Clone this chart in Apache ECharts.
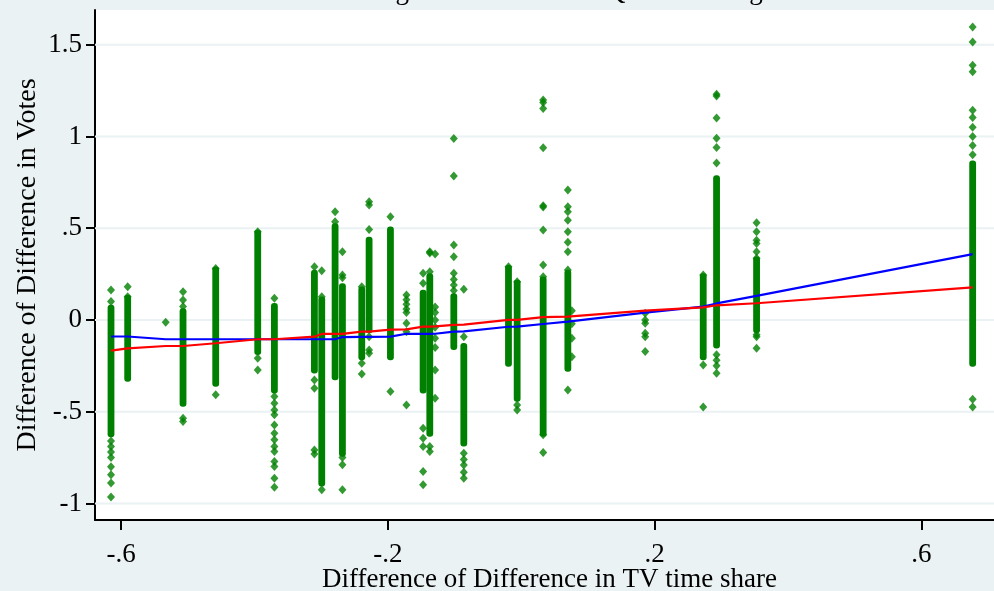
<!DOCTYPE html>
<html>
<head>
<meta charset="utf-8">
<script src="https://cdn.jsdelivr.net/npm/echarts@6/dist/echarts.min.js"></script>
<style>
html,body{margin:0;padding:0;background:#eaf2f3;}
#chart{width:994px;height:591px;}
</style>
</head>
<body>
<div id="chart"></div>
<script>
// ---- Data ----
const titleText = 'Local Linear Regression and Local Quadratic Regression Fit';
const xTitle = 'Difference of Difference in TV time share';
const yTitle = 'Difference of Difference in Votes';

const xTickValues = [-0.6, -0.2, 0.2, 0.6];
const xTickLabels = ['-.6', '-.2', '.2', '.6'];
const yTickValues = [-1, -0.5, 0, 0.5, 1, 1.5];
const yTickLabels = ['-1', '-.5', '0', '.5', '1', '1.5'];

// Dense runs of overlapping points: x, lowest y, highest y
const runX    = [-0.615, -0.59, -0.507, -0.458, -0.395, -0.37, -0.31, -0.299, -0.279, -0.268, -0.239, -0.228, -0.196, -0.147, -0.137, -0.101, -0.086, -0.019, -0.006, 0.033, 0.07, 0.273, 0.293, 0.353, 0.677];
const runLow  = [-0.62, -0.318, -0.454, -0.345, -0.172, -0.381, -0.272, -0.889, -0.309, -0.726, -0.2, -0.054, -0.2, -0.381, -0.617, -0.145, -0.671, -0.236, -0.426, -0.617, -0.263, -0.2, -0.136, -0.054, -0.236];
const runHigh = [0.064, 0.118, 0.045, 0.272, 0.472, 0.073, 0.254, 0.109, 0.508, 0.181, 0.163, 0.435, 0.49, 0.145, 0.236, 0.127, -0.145, 0.281, 0.2, 0.218, 0.254, 0.236, 0.77, 0.327, 0.85];

// Separate points
const ptX = [
  -0.615,-0.615,-0.615,-0.615,-0.615,-0.615,-0.615,-0.615,-0.615,-0.615,
  -0.59,-0.59,
  -0.533,
  -0.507,-0.507,-0.507,-0.507,-0.507,
  -0.458,-0.458,
  -0.395,-0.395,-0.395,
  -0.37,-0.37,-0.37,-0.37,-0.37,-0.37,-0.37,-0.37,-0.37,-0.37,-0.37,-0.37,-0.37,-0.37,
  -0.31,-0.31,-0.31,-0.31,-0.31,
  -0.299,-0.299,-0.299,
  -0.279,-0.279,
  -0.268,-0.268,-0.268,-0.268,-0.268,-0.268,
  -0.239,-0.239,-0.239,
  -0.228,-0.228,-0.228,-0.228,-0.228,-0.228,
  -0.196,-0.196,
  -0.172,-0.172,-0.172,-0.172,-0.172,-0.172,-0.172,-0.172,
  -0.147,-0.147,-0.147,-0.147,-0.147,-0.147,-0.147,
  -0.137,-0.137,-0.137,-0.137,-0.137,
  -0.129,-0.129,-0.129,-0.129,-0.129,-0.129,-0.129,-0.129,-0.129,
  -0.101,-0.101,-0.101,-0.101,-0.101,-0.101,-0.101,-0.101,
  -0.086,-0.086,-0.086,-0.086,-0.086,-0.086,-0.086,
  -0.019,
  -0.006,-0.006,-0.006,
  0.033,0.033,0.033,0.033,0.033,0.033,0.033,0.033,0.033,0.033,0.033,
  0.07,0.07,0.07,0.07,0.07,0.07,0.07,0.07,0.07,
  0.076,0.076,0.076,0.076,
  0.186,0.186,0.186,0.186,0.186,0.186,
  0.273,0.273,0.273,
  0.293,0.293,0.293,0.293,0.293,0.293,0.293,0.293,0.293,0.293,
  0.353,0.353,0.353,0.353,0.353,0.353,0.353,0.353,0.353,
  0.677,0.677,0.677,0.677,0.677,0.677,0.677,0.677,0.677,0.677,0.677,0.677
];
const ptY = [
  0.163,0.1,-0.66,-0.69,-0.72,-0.75,-0.80,-0.844,-0.889,-0.965,
  0.181,0.127,
  -0.013,
  0.154,0.109,0.073,-0.535,-0.553,
  0.281,-0.408,
  0.481,-0.209,-0.272,
  0.118,-0.417,-0.454,-0.49,-0.517,-0.572,-0.617,-0.653,-0.69,-0.717,-0.771,-0.798,-0.862,-0.911,
  0.29,-0.327,-0.372,-0.708,-0.73,
  0.127,-0.925,0.268,
  0.59,0.535,
  0.372,0.245,0.23,-0.75,-0.789,-0.925,
  0.181,-0.236,-0.294,
  0.644,0.626,0.493,-0.091,-0.163,-0.181,
  0.562,-0.39,
  0.136,0.11,0.085,0.06,0.04,-0.018,-0.064,-0.463,
  0.254,0.2,-0.59,-0.644,-0.69,-0.826,-0.898,
  0.372,0.365,0.263,-0.69,-0.717,
  0.36,0.07,0.04,0.0,-0.04,-0.1,-0.15,-0.272,-0.426,
  0.989,0.784,0.408,0.345,0.254,0.22,0.19,0.16,
  0.167,-0.091,-0.726,-0.76,-0.79,-0.83,-0.862,
  0.29,
  0.208,-0.463,-0.49,
  1.198,1.185,1.152,0.938,0.622,0.615,0.49,0.299,0.236,-0.626,-0.722,
  0.708,0.617,0.59,0.544,0.481,0.423,0.372,0.272,-0.381,
  0.05,-0.02,-0.1,-0.2,
  0.036,0.0,-0.018,-0.073,-0.091,-0.172,
  0.245,-0.245,-0.474,
  1.23,1.22,1.1,0.99,0.94,0.855,-0.19,-0.22,-0.25,-0.29,
  0.53,0.481,0.435,0.417,0.372,0.336,-0.091,-0.154,-0.08,
  1.597,1.515,1.388,1.352,1.143,1.103,1.05,1.0,0.95,0.9,-0.432,-0.474
];

// Fitted curves evaluated at each distinct x
const fitX      = [-0.615, -0.59, -0.533, -0.507, -0.458, -0.395, -0.37, -0.31, -0.299, -0.279, -0.268, -0.239, -0.228, -0.196, -0.172, -0.147, -0.137, -0.129, -0.101, -0.086, -0.019, -0.006, 0.033, 0.07, 0.186, 0.273, 0.293, 0.353, 0.677];
const linearFit = [-0.09, -0.09, -0.105, -0.105, -0.105, -0.105, -0.105, -0.105, -0.105, -0.105, -0.093, -0.092, -0.092, -0.091, -0.075, -0.076, -0.076, -0.075, -0.064, -0.062, -0.037, -0.036, -0.022, -0.009, 0.04, 0.073, 0.09, 0.131, 0.359];
const quadFit   = [-0.167, -0.155, -0.142, -0.142, -0.127, -0.105, -0.105, -0.091, -0.076, -0.076, -0.076, -0.064, -0.064, -0.053, -0.051, -0.036, -0.036, -0.035, -0.027, -0.025, 0.0, 0.0, 0.015, 0.018, 0.051, 0.069, 0.08, 0.091, 0.178];

// ---- Build options ----
const GREEN = '#008000';
const FONT = 'Liberation Serif';
const runData = runX.map((x, i) => [x, runLow[i], runHigh[i]]);
const ptData = ptX.map((x, i) => [x, ptY[i]]);
const linData = fitX.map((x, i) => [x, linearFit[i]]);
const quadData = fitX.map((x, i) => [x, quadFit[i]]);
const gridData = yTickValues.map(v => [v]);

const chart = echarts.init(document.getElementById('chart'), null, {renderer: 'canvas'});
chart.setOption({
  backgroundColor: '#eaf2f3',
  animation: false,
  title: {
    text: titleText,
    left: 215,
    top: -27,
    textStyle: {fontFamily: FONT, fontSize: 27, fontWeight: 'normal', color: '#000'}
  },
  grid: {left: 95, right: 0, top: 10, bottom: 71, show: true, backgroundColor: '#ffffff', borderWidth: 0, outerBoundsMode: 'none', containLabel: false},
  xAxis: {
    type: 'value',
    min: -0.639, max: 0.709,
    name: xTitle,
    nameLocation: 'middle',
    nameGap: 46,
    nameMoveOverlap: false,
    nameTextStyle: {fontFamily: FONT, fontSize: 27, color: '#000', padding: [0, 0, 0, 10]},
    axisLine: {onZero: false, lineStyle: {color: '#000', width: 2}},
    axisTick: {show: true, length: 10, lineStyle: {color: '#000', width: 2}, customValues: xTickValues},
    axisLabel: {
      fontFamily: FONT, fontSize: 27, color: '#000', margin: 21,
      customValues: xTickValues,
      formatter: v => xTickLabels[xTickValues.findIndex(t => Math.abs(t - v) < 1e-9)]
    },
    splitLine: {show: false}
  },
  yAxis: {
    type: 'value',
    min: -1.09, max: 1.689,
    name: yTitle,
    nameLocation: 'middle',
    nameGap: 53,
    nameMoveOverlap: false,
    nameTextStyle: {fontFamily: FONT, fontSize: 28, color: '#000'},
    axisLine: {onZero: false, lineStyle: {color: '#000', width: 2}},
    axisTick: {show: true, length: 9, lineStyle: {color: '#000', width: 2}, customValues: yTickValues},
    axisLabel: {
      fontFamily: FONT, fontSize: 27, color: '#000', margin: 13,
      customValues: yTickValues,
      formatter: v => yTickLabels[yTickValues.findIndex(t => Math.abs(t - v) < 1e-9)]
    },
    splitLine: {show: false}
  },
  series: [
    {
      type: 'custom',
      silent: true,
      data: gridData,
      renderItem: function (params, api) {
        const p = api.coord([0, api.value(0)]);
        const cs = params.coordSys;
        return {
          type: 'line',
          shape: {x1: cs.x, y1: p[1], x2: cs.x + cs.width, y2: p[1]},
          style: {stroke: '#eaf2f3', lineWidth: 2}
        };
      },
      z: 1
    },
    {
      type: 'custom',
      clip: true,
      data: runData,
      renderItem: function (params, api) {
        const top = api.coord([api.value(0), api.value(2)]);
        const bot = api.coord([api.value(0), api.value(1)]);
        return {
          type: 'rect',
          shape: {x: top[0] - 3.4, y: top[1] - 3.5, width: 6.8, height: bot[1] - top[1] + 7, r: 3},
          style: {fill: GREEN}
        };
      },
      z: 2
    },
    {
      type: 'scatter',
      data: ptData,
      symbol: 'diamond',
      symbolSize: [8, 9],
      itemStyle: {color: GREEN},
      clip: true,
      z: 3
    },
    {
      type: 'line',
      data: linData,
      symbol: 'none',
      lineStyle: {color: '#0000ff', width: 2.2},
      z: 4
    },
    {
      type: 'line',
      data: quadData,
      symbol: 'none',
      lineStyle: {color: '#ff0000', width: 2.2},
      z: 5
    }
  ]
});
</script>
</body>
</html>
